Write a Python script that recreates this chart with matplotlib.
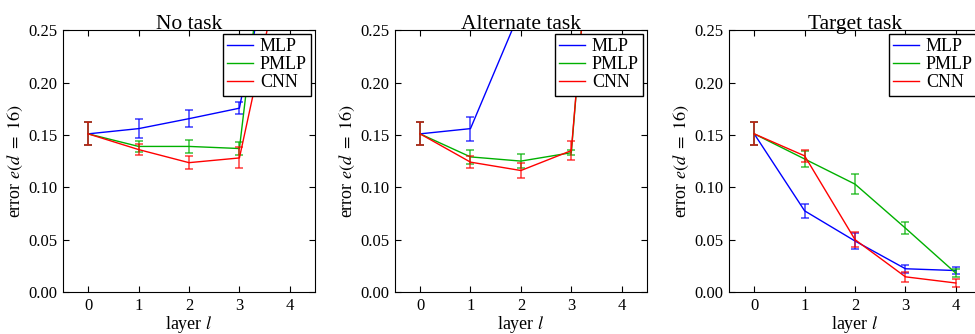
import numpy as np
import matplotlib
matplotlib.use("Agg")
from matplotlib import pyplot as plt

plt.rcParams['font.family'] = ['Liberation Serif', 'DejaVu Serif']
plt.rcParams['mathtext.fontset'] = 'stix'

layers = [0, 1, 2, 3, 4]
titles = ["No task", "Alternate task", "Target task"]
models = ["MLP", "PMLP", "CNN"]
colors = ["#0000ff", "#00b000", "#ff0000"]

# mean error per layer, one list per model, one block per panel
no_task_mlp = [0.151, 0.156, 0.1655, 0.1755, 0.42]
no_task_pmlp = [0.151, 0.139, 0.139, 0.137, 0.54]
no_task_cnn = [0.151, 0.136, 0.1235, 0.128, 0.35]
no_task_mlp_err = [0.011, 0.009, 0.008, 0.0055, 0.005]
no_task_pmlp_err = [0.011, 0.0055, 0.006, 0.0065, 0.005]
no_task_cnn_err = [0.011, 0.0055, 0.0065, 0.010, 0.005]

alt_mlp = [0.151, 0.156, 0.27, 0.35, 0.45]
alt_pmlp = [0.151, 0.129, 0.125, 0.133, 0.72]
alt_cnn = [0.151, 0.124, 0.116, 0.135, 0.71]
alt_mlp_err = [0.011, 0.0115, 0.01, 0.01, 0.01]
alt_pmlp_err = [0.011, 0.0068, 0.0067, 0.0025, 0.005]
alt_cnn_err = [0.011, 0.006, 0.007, 0.0088, 0.005]

target_mlp = [0.151, 0.0775, 0.0487, 0.0222, 0.0205]
target_pmlp = [0.151, 0.127, 0.103, 0.061, 0.018]
target_cnn = [0.151, 0.130, 0.050, 0.0145, 0.0086]
target_mlp_err = [0.011, 0.0064, 0.0075, 0.004, 0.003]
target_pmlp_err = [0.011, 0.0076, 0.0094, 0.006, 0.004]
target_cnn_err = [0.011, 0.006, 0.007, 0.0045, 0.0035]

panels = [
    ([no_task_mlp, no_task_pmlp, no_task_cnn],
     [no_task_mlp_err, no_task_pmlp_err, no_task_cnn_err]),
    ([alt_mlp, alt_pmlp, alt_cnn],
     [alt_mlp_err, alt_pmlp_err, alt_cnn_err]),
    ([target_mlp, target_pmlp, target_cnn],
     [target_mlp_err, target_pmlp_err, target_cnn_err]),
]

fig = plt.figure(figsize=(9.75, 3.34), dpi=100)
lefts = [0.0646, 0.405, 0.7477]

for k in range(3):
    ax = fig.add_axes([lefts[k], 0.1257, 0.2585, 0.784])
    vals, errs = panels[k]
    for name, c, v, e in zip(models, colors, vals, errs):
        ax.plot(layers, v, color=c, lw=1, label=name)
        ax.errorbar(layers, v, yerr=e, fmt='none', ecolor=c, elinewidth=1.2,
                    capsize=3, capthick=1.2, alpha=0.7)
    ax.set_xlim(-0.5, 4.5)
    ax.set_ylim(0, 0.25)
    ax.set_xticks(layers)
    ax.set_yticks(np.arange(0, 0.26, 0.05))
    ax.set_yticklabels(["%.2f" % t for t in np.arange(0, 0.26, 0.05)])
    ax.tick_params(direction='in', top=True, right=True, labelsize=12,
                   length=4, pad=4)
    ax.set_title(titles[k], fontsize=15.5, pad=1)
    ax.set_xlabel("layer $l$", fontsize=13, labelpad=0)
    ax.set_ylabel("error $e(d\\ =\\ 16)$", fontsize=13, labelpad=2)
    leg = ax.legend(loc='upper right', fancybox=False, edgecolor='black',
                    fontsize=13, borderaxespad=0.2, handlelength=1.4,
                    handletextpad=0.4, borderpad=0.25, labelspacing=0.05,
                    framealpha=1)
    leg.get_frame().set_linewidth(1.0)

plt.savefig("out.png", dpi=100)
